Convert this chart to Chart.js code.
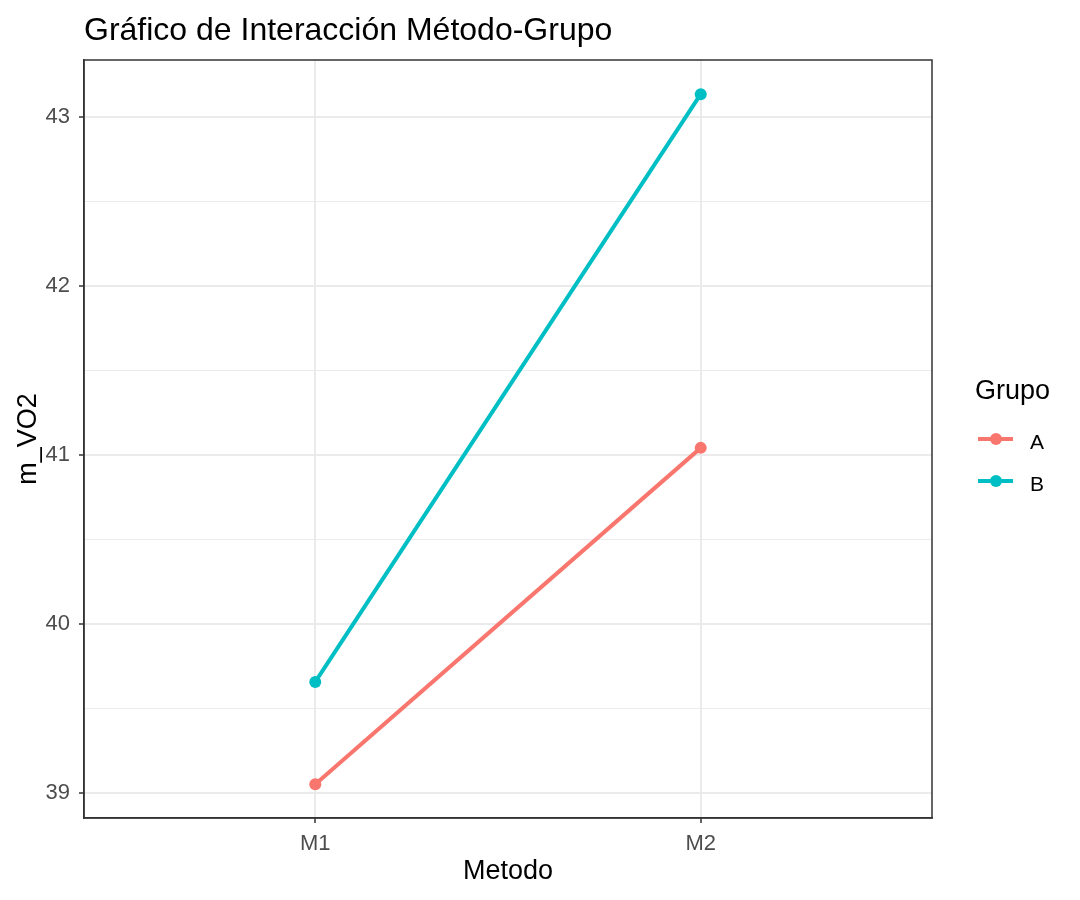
<!DOCTYPE html>
<html>
<head>
<meta charset="utf-8">
<script src="https://cdn.jsdelivr.net/npm/chart.js@4.4.1/dist/chart.umd.min.js"></script>
<style>
  body { margin: 0; background: #fff; font-family: "Liberation Sans", Arial, sans-serif; }
  #wrap { position: relative; width: 1080px; height: 900px; }
  #title { position: absolute; left: 84px; top: 13px; font-size: 32px; line-height: 32px; color: #000; white-space: nowrap; }
  #legend { position: absolute; left: 0; top: 0; }
  .leg-title { position: absolute; left: 975px; top: 377px; font-size: 27px; line-height: 27px; white-space: nowrap; }
  .leg-line { position: absolute; height: 4px; width: 35px; }
  .leg-dot { position: absolute; width: 12px; height: 12px; border-radius: 50%; }
  .leg-label { position: absolute; font-size: 21px; line-height: 21px; color: #000; }
</style>
</head>
<body>
<div id="wrap">
  <canvas id="chart" width="1080" height="900"></canvas>
  <div id="title">Gráfico de Interacción Método-Grupo</div>
  <div id="legend"><div class="leg-title">Grupo</div></div>
</div>
<script>
// categories on x axis and groups
const categories = ["M1", "M2"];
const grupos = ["A", "B"];
// mean VO2 per method, one array per group
const valoresA = [39.05, 41.04];
const valoresB = [39.655, 43.133];
const colores = ["#F8766D", "#00BFC4"];

// y ticks (major labelled, minor only as grid)
const yTicks = [39, 40, 41, 42, 43];
const yMinor = [39.5, 40.5, 41.5, 42.5];

Chart.defaults.font.family = '"Liberation Sans", Arial, sans-serif';

const series = [valoresA, valoresB];

const datasets = grupos.map((g, k) => ({
    label: g,
    data: categories.map((c, i) => ({ x: i + 1, y: series[k][i] })),
    borderColor: colores[k],
    backgroundColor: colores[k],
    pointBackgroundColor: colores[k],
    borderWidth: 4,
    pointRadius: 6,
    pointBorderWidth: 0,
    tension: 0
}));

// panel border on top/right (ggplot theme_bw)
const panelBorder = {
    id: "panelBorder",
    afterDraw(chart) {
        const a = chart.chartArea;
        const ctx = chart.ctx;
        ctx.save();
        ctx.strokeStyle = "#333333";
        ctx.lineWidth = 1.5;
        ctx.strokeRect(a.left, a.top, a.right - a.left, a.bottom - a.top);
        ctx.restore();
    }
};

new Chart(document.getElementById("chart"), {
    type: "line",
    data: { datasets: datasets },
    plugins: [panelBorder],
    options: {
        responsive: false,
        animation: false,
        layout: { padding: { top: 60, right: 148, left: 0, bottom: 0 } },
        plugins: {
            legend: { display: false },
            tooltip: { enabled: false }
        },
        scales: {
            x: {
                type: "linear",
                min: 0.4,
                max: 2.6,
                afterBuildTicks: s => { s.ticks = categories.map((c, i) => ({ value: i + 1 })); },
                afterFit: s => { s.height = 82; },
                ticks: {
                    callback: v => categories[v - 1],
                    color: "#4d4d4d",
                    font: { size: 22 },
                    padding: 8,
                    maxRotation: 0
                },
                grid: { color: "#ebebeb", lineWidth: 2, tickColor: "#333333", tickLength: 5, tickWidth: 1.5 },
                border: { display: true, color: "#333333", width: 1.5 },
                title: { display: true, text: "Metodo", color: "#000", font: { size: 27 }, padding: { top: 0, bottom: 12 } }
            },
            y: {
                min: 38.85,
                max: 43.335,
                afterBuildTicks: s => {
                    s.ticks = yTicks.concat(yMinor).sort((a, b) => a - b).map(v => ({ value: v }));
                },
                afterFit: s => { s.width = 84; },
                ticks: {
                    callback: v => yTicks.includes(v) ? String(v) : "",
                    color: "#4d4d4d",
                    font: { size: 22 },
                    padding: 9
                },
                grid: {
                    color: "#ebebeb",
                    lineWidth: c => yTicks.includes(c.tick.value) ? 2 : 1,
                    tickColor: c => yTicks.includes(c.tick.value) ? "#333333" : "rgba(0,0,0,0)",
                    tickLength: 5,
                    tickWidth: 1.5
                },
                border: { display: true, color: "#333333", width: 1.5 },
                title: { display: true, text: "m_VO2", color: "#000", font: { size: 27 }, padding: { top: 12, bottom: 0 } }
            }
        }
    }
});

// legend built from the same groups/colours
const legend = document.getElementById("legend");
grupos.forEach((g, k) => {
    const cy = 438.5 + k * 42.4;
    const line = document.createElement("div");
    line.className = "leg-line";
    line.style.left = "978px";
    line.style.top = (cy - 2) + "px";
    line.style.background = colores[k];
    legend.appendChild(line);
    const dot = document.createElement("div");
    dot.className = "leg-dot";
    dot.style.left = (996 - 6) + "px";
    dot.style.top = (cy - 6) + "px";
    dot.style.background = colores[k];
    legend.appendChild(dot);
    const lab = document.createElement("div");
    lab.className = "leg-label";
    lab.style.left = "1030px";
    lab.style.top = (cy - 8) + "px";
    lab.innerText = g;
    legend.appendChild(lab);
});
</script>
</body>
</html>
